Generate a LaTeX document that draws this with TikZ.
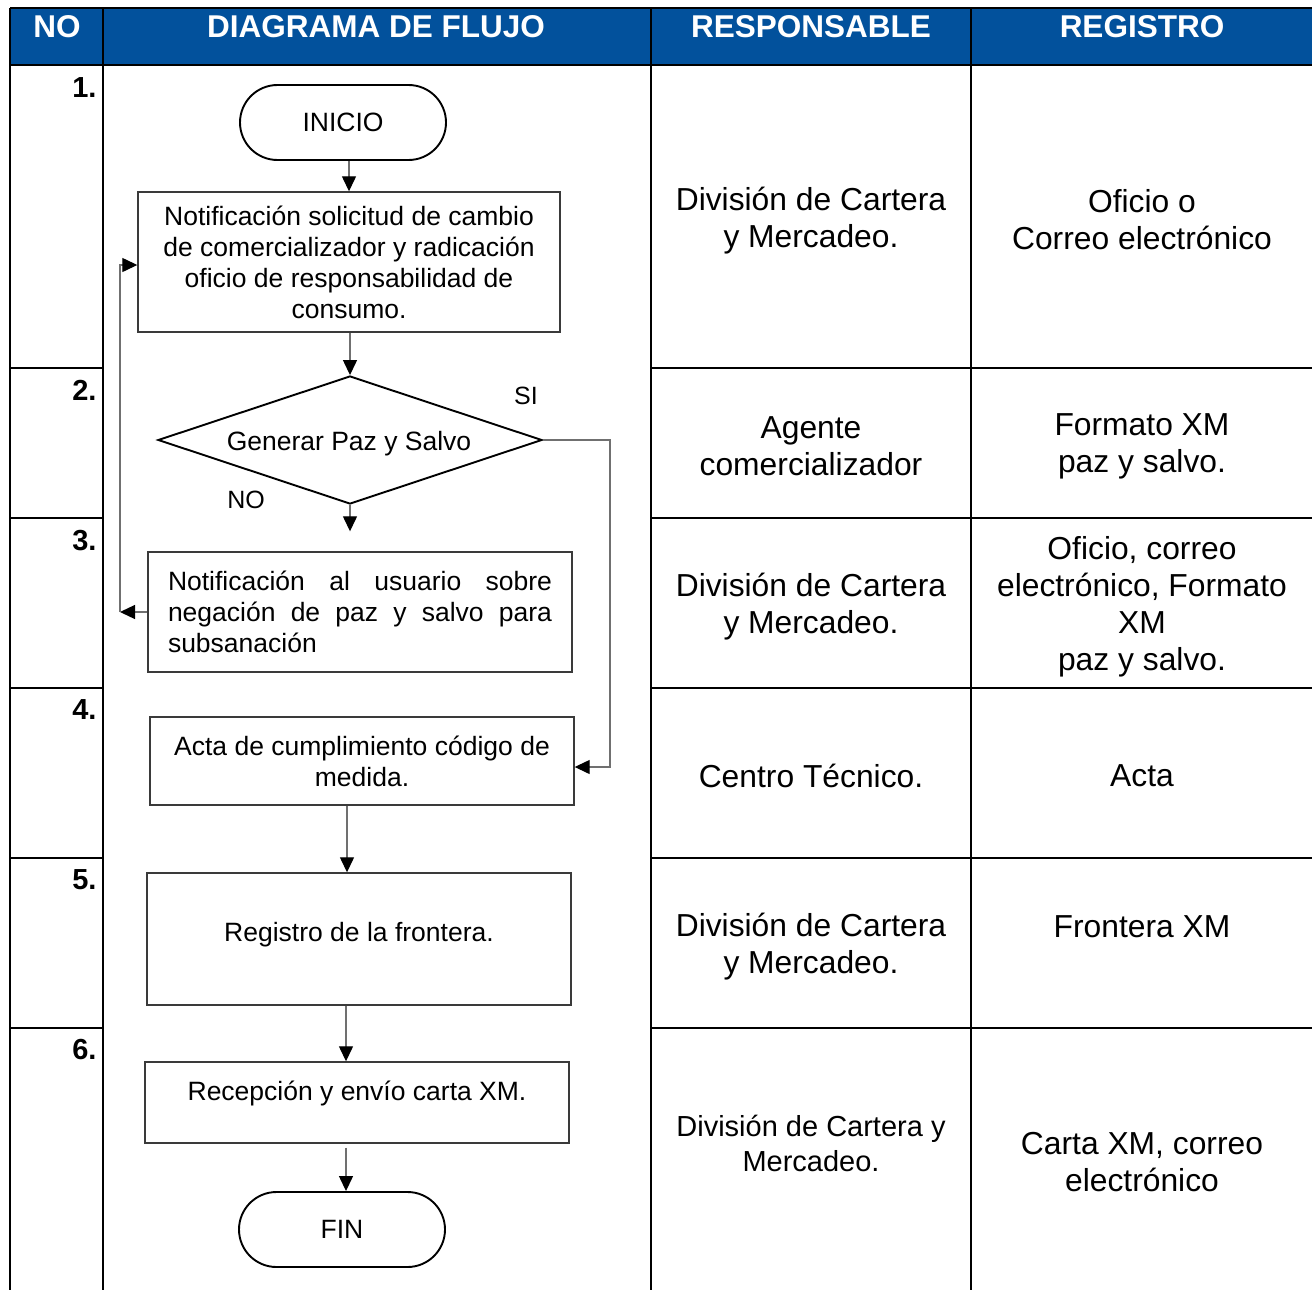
\documentclass[tikz,border=0pt]{standalone}
\usepackage{fontspec}
\setmainfont{Liberation Sans}
\usetikzlibrary{arrows.meta,shapes.geometric,shapes.misc,calc}
\definecolor{hdrblue}{HTML}{02519C}
\definecolor{boxgray}{HTML}{3A3A3A}
\definecolor{arrgray}{HTML}{707070}
\newcommand\fsBody{\fontsize{26.5}{31}\selectfont}
\newcommand\fsCol{\fontsize{31.8}{37}\selectfont}
\newcommand\fsColS{\fontsize{29}{35}\selectfont}
\newcommand\fsHead{\fontsize{31.5}{34}\selectfont\bfseries}
\newcommand\fsNum{\fontsize{29}{34}\selectfont\bfseries}
\tikzset{
  grid/.style={line width=2.4pt, black},
  flowbox/.style={draw=boxgray, line width=1.4pt, rectangle, inner sep=0pt, align=center, font=\fsBody},
  term/.style={draw=black, line width=1.9pt, rounded rectangle, minimum width=206pt, minimum height=75pt, inner sep=0pt, font=\fsBody},
  decision/.style={draw=black, line width=1.9pt, diamond, minimum width=384pt, minimum height=128pt, inner sep=0pt, font=\fsBody},
  arr/.style={draw=arrgray, line width=1.3pt, -{Triangle[width=14pt,length=15pt,fill=black,color=black]}},
  conn/.style={draw=arrgray, line width=1.3pt},
  hdr/.style={text=white, font=\fsHead, anchor=base},
  num/.style={font=\fsNum, anchor=base east},
  coltext/.style={font=\fsCol, align=center, inner sep=0pt},
  lbl/.style={font=\fontsize{25}{30}\selectfont, inner sep=0pt}
}
\begin{document}
\begin{tikzpicture}[x=1pt,y=-1pt]
\useasboundingbox (0,0) rectangle (1312,1290);
% header
\fill[hdrblue] (10,8) rectangle (1312,65);
\draw[grid] (10,8) -- (1312,8);
\draw[grid] (10,65) -- (1312,65);
\foreach \xx in {10,103,651,971} \draw[grid] (\xx,8) -- (\xx,1290);
\foreach \yy in {368,518,688,858,1028} {
  \draw[grid] (10,\yy) -- (103,\yy);
  \draw[grid] (651,\yy) -- (1312,\yy);
}
\node[hdr] (hno) at (57,38) {NO};
\node[hdr] (hdf) at (376,38) {DIAGRAMA DE FLUJO};
\node[hdr] (hre) at (811,38) {RESPONSABLE};
\node[hdr] (hrg) at (1142,38) {REGISTRO};
% numbers
\node[num] (n1) at (100,97) {1.};
\node[num] (n2) at (100,400) {2.};
\node[num] (n3) at (100,550) {3.};
\node[num] (n4) at (100,719) {4.};
\node[num] (n5) at (100,889) {5.};
\node[num] (n6) at (100,1059) {6.};
% responsible / registro
\node[coltext] (r1) at (811,221) {División de Cartera\\y Mercadeo.};
\node[coltext] (g1) at (1142,220) {Oficio o\\Correo electrónico};
\node[coltext] (r2) at (811,446) {Agente\\comercializador};
\node[coltext] (g2) at (1142,446) {Formato XM\\paz y salvo.};
\node[coltext] (r3) at (811,607) {División de Cartera\\y Mercadeo.};
\node[coltext] (g3) at (1142,607) {Oficio, correo\\electrónico, Formato\\XM\\paz y salvo.};
\node[coltext] (r4) at (811,776) {Centro Técnico.};
\node[coltext] (g4) at (1142,776) {Acta};
\node[coltext] (r5) at (811,947) {División de Cartera\\y Mercadeo.};
\node[coltext] (g5) at (1142,927) {Frontera XM};
\node[coltext, font=\fsColS] (r6) at (811,1143) {División de Cartera y\\Mercadeo.};
\node[coltext] (g6) at (1142,1162) {Carta XM, correo\\electrónico};
% flowchart
\node[term] (inicio) at (343,122.5) {INICIO};
\node[flowbox, minimum width=422pt, minimum height=140pt] (b1) at (349,262)
  {Notificación solicitud de cambio\\de comercializador y radicación\\oficio de responsabilidad de\\consumo.};
\node[decision] (dia) at (350,440) {};
\node[font=\fsBody, inner sep=0pt] (diat) at (349,443.5) {Generar Paz y Salvo};
\node[lbl] (si) at (526,396) {SI};
\node[lbl] (no) at (246,500) {NO};
\node[flowbox, minimum width=424pt, minimum height=120pt] (b3) at (360,612)
  {\parbox{384pt}{\fsBody\raggedright Notificación\hfill al\hfill usuario\hfill sobre\\negación\hfill de\hfill paz\hfill y\hfill salvo\hfill para\\subsanación}};
\node[flowbox, minimum width=424pt, minimum height=88pt] (b4) at (362,761)
  {Acta de cumplimiento código de\\medida.};
\node[flowbox, minimum width=424pt, minimum height=132pt] (b5) at (359,939)
  {\raisebox{14pt}{Registro de la frontera.}};
\node[flowbox, minimum width=424pt, minimum height=81pt] (b6) at (357,1102.5)
  {\raisebox{24pt}{Recepción y envío carta XM.}};
\node[term] (fin) at (342,1229.5) {FIN};
% connectors
\coordinate (loopb) at (120,612);
\coordinate (sic) at (610,440);
\coordinate (xa) at (347,0);
\coordinate (xb) at (346,0);
\draw[arr] (inicio.south -| b1.north) -- (b1.north);
\draw[arr] (b1.south -| dia.north) -- (dia.north);
\draw[arr, shorten >=20pt] (dia.south) -- (dia.south |- b3.north);
\draw[arr] (b3.west) -- (loopb);
\draw[arr] (loopb) |- ([yshift=-3pt]b1.west);
\draw[arr] (dia.east) -- (sic) |- ([yshift=-6pt]b4.east);
\draw[arr] (b4.south -| xa) -- (b5.north -| xa);
\draw[arr] (b5.south -| xb) -- (b6.north -| xb);
\draw[arr] ([yshift=-4pt]b6.south -| xb) -- (fin.north -| xb);
\end{tikzpicture}
\end{document}
